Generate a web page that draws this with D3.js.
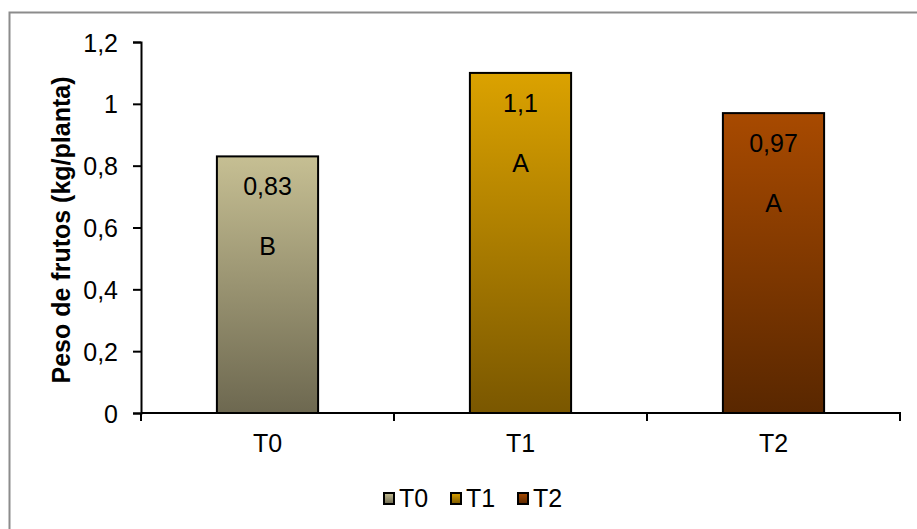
<!DOCTYPE html>
<html>
<head>
<meta charset="utf-8">
<script src="https://cdn.jsdelivr.net/npm/d3@7"></script>
<style>
  html, body { margin: 0; padding: 0; background: #fff; }
  svg { display: block; font-family: "Liberation Sans", Arial, sans-serif; }
</style>
</head>
<body>
<svg id="chart" width="917" height="529"></svg>
<script>
// Fruit weight per plant by treatment
const categories = ["T0", "T1", "T2"];
const values = [0.83, 1.1, 0.97];
const letters = ["B", "A", "A"];
const valueLabels = ["0,83", "1,1", "0,97"];
const yTicks = [0, 0.2, 0.4, 0.6, 0.8, 1, 1.2];
const yTickLabels = ["0", "0,2", "0,4", "0,6", "0,8", "1", "1,2"];
const colorsTop = ["#c6bf93", "#dba200", "#a84a00"];
const colorsBottom = ["#6d6850", "#7a5700", "#592700"];

const FS = 25;
const svg = d3.select("#chart");

// Outer frame
svg.append("rect")
  .attr("x", 9.5).attr("y", 12.5)
  .attr("width", 940).attr("height", 560)
  .attr("fill", "none").attr("stroke", "#8c8c8c").attr("stroke-width", 2);

const x = d3.scaleBand().domain(categories).range([141, 900]).paddingInner(0).paddingOuter(0);
const y = d3.scaleLinear().domain([0, 1.2]).range([413, 42]);

const defs = svg.append("defs");
categories.forEach((c, i) => {
  const g = defs.append("linearGradient").attr("id", "grad" + i)
    .attr("x1", 0).attr("y1", 0).attr("x2", 0).attr("y2", 1);
  g.append("stop").attr("offset", "0%").attr("stop-color", colorsTop[i]);
  g.append("stop").attr("offset", "100%").attr("stop-color", colorsBottom[i]);
});

// Bars
const barW = x.bandwidth() * 0.4;
const bars = svg.append("g");
bars.selectAll("rect").data(values).join("rect")
  .attr("x", (d, i) => x(categories[i]) + (x.bandwidth() - barW) / 2)
  .attr("y", d => y(d))
  .attr("width", barW)
  .attr("height", d => y(0) - y(d))
  .attr("fill", (d, i) => `url(#grad${i})`)
  .attr("stroke", "#000").attr("stroke-width", 2);

// Value labels and significance letters
bars.selectAll("text.val").data(values).join("text")
  .attr("class", "val")
  .attr("x", (d, i) => x(categories[i]) + x.bandwidth() / 2)
  .attr("y", d => y(d) + 39)
  .attr("text-anchor", "middle").attr("font-size", FS).attr("fill", "#000")
  .text((d, i) => valueLabels[i]);
bars.selectAll("text.let").data(values).join("text")
  .attr("class", "let")
  .attr("x", (d, i) => x(categories[i]) + x.bandwidth() / 2)
  .attr("y", d => y(d) + 99)
  .attr("text-anchor", "middle").attr("font-size", FS).attr("fill", "#000")
  .text((d, i) => letters[i]);

// Y axis
const yAxis = d3.axisLeft(y).tickValues(yTicks).tickSize(8)
  .tickFormat((d, i) => yTickLabels[i]);
const gy = svg.append("g").attr("transform", "translate(141,0)").call(yAxis);
gy.attr("font-size", FS).attr("font-family", null);
gy.select(".domain").attr("stroke", "#000").attr("stroke-width", 2);
gy.selectAll(".tick line").attr("stroke", "#000").attr("stroke-width", 2);
gy.selectAll(".tick text").attr("fill", "#000").attr("x", -23).attr("dy", "0.36em");

// X axis
const xTickScale = d3.scaleLinear().domain([0, 3]).range([141, 900]);
const gx = svg.append("g").attr("transform", "translate(0,413)");
gx.append("line").attr("x1", 141).attr("x2", 901).attr("y1", 0).attr("y2", 0)
  .attr("stroke", "#000").attr("stroke-width", 2);
gx.selectAll("line.tk").data([0, 1, 2, 3]).join("line")
  .attr("class", "tk")
  .attr("x1", d => xTickScale(d)).attr("x2", d => xTickScale(d))
  .attr("y1", 0).attr("y2", 8)
  .attr("stroke", "#000").attr("stroke-width", 2);
gx.selectAll("text").data(categories).join("text")
  .attr("x", d => x(d) + x.bandwidth() / 2)
  .attr("y", 39)
  .attr("text-anchor", "middle").attr("font-size", FS).attr("fill", "#000")
  .text(d => d);

// Y axis title
svg.append("text")
  .attr("transform", "translate(70,230) rotate(-90)")
  .attr("text-anchor", "middle")
  .attr("font-size", 25).attr("font-weight", "bold").attr("fill", "#000")
  .text("Peso de frutos (kg/planta)");

// Legend
const legendX = [384, 451, 518];
const legend = svg.append("g");
categories.forEach((c, i) => {
  legend.append("rect")
    .attr("x", legendX[i]).attr("y", 493)
    .attr("width", 10).attr("height", 11)
    .attr("fill", `url(#grad${i})`)
    .attr("stroke", "#000").attr("stroke-width", 2);
  legend.append("text")
    .attr("x", legendX[i] + 15).attr("y", 507)
    .attr("font-size", FS).attr("fill", "#000")
    .text(c);
});
</script>
</body>
</html>
